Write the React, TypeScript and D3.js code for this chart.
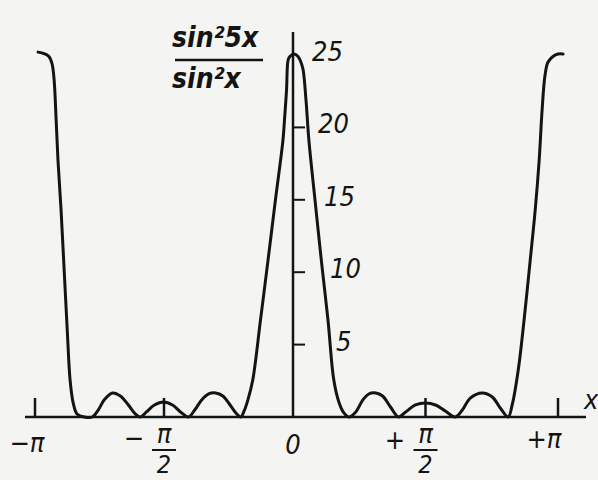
import React from "react";
import * as d3 from "d3";

// curve: x in multiples of pi, y = sin^2(5x)/sin^2(x)
const xPi = [
  -0.988, -0.965, -0.946, -0.934, -0.926, -0.918, -0.911, -0.899, -0.887, -0.875, -0.864, -0.852, -0.837, -0.809, -0.778,
  -0.755, -0.732, -0.7, -0.669, -0.638, -0.611, -0.591,
  -0.568, -0.537, -0.502, -0.467, -0.436, -0.405,
  -0.381, -0.354, -0.327, -0.3, -0.272, -0.241, -0.218, -0.202,
  -0.191, -0.175, -0.156, -0.126, -0.097, -0.068, -0.039, -0.033, -0.025, -0.019, -0.012, 0.004,
  0.019, 0.03, 0.038, 0.049, 0.06, 0.083, 0.107, 0.132, 0.154, 0.173, 0.192, 0.211,
  0.237, 0.263, 0.286, 0.312, 0.338, 0.368, 0.398,
  0.425, 0.462, 0.5, 0.538, 0.575, 0.613,
  0.639, 0.669, 0.714, 0.752, 0.782, 0.812,
  0.827, 0.85, 0.872, 0.895, 0.914, 0.929, 0.94, 0.951, 0.962, 0.981, 1.0, 1.019,
];
const yVals = [
  25.2, 25.1, 24.9, 24.4, 23.3, 20.5, 17.75, 14.3, 10.15, 6.0, 2.55, 0.97, 0.21, 0, 0,
  0.48, 1.17, 1.66, 1.45, 0.83, 0.21, 0,
  0.35, 0.83, 1.04, 0.83, 0.35, 0,
  0.48, 1.17, 1.59, 1.66, 1.45, 0.76, 0.21, 0,
  0.35, 1.17, 2.55, 6.7, 10.8, 15.0, 19.1, 20.5, 22.6, 24.65, 24.9, 25.07,
  24.9, 24.5, 24.0, 21.9, 19.1, 15.0, 10.8, 6.7, 2.55, 1.04, 0.28, 0,
  0.35, 1.17, 1.59, 1.66, 1.45, 0.69, 0,
  0.35, 0.83, 0.97, 0.83, 0.41, 0,
  0.48, 1.31, 1.66, 1.38, 0.62, 0,
  0.83, 3.25, 6.7, 10.8, 14.3, 17.75, 21.2, 23.6, 24.5, 24.9, 25.07, 25.07,
];
const yTicks = [5, 10, 15, 20];
const yTickLabels = ["25", "20", "15", "10", "5"];
const yLabelValues = [25, 20, 15, 10, 5];
const xTicks = [-1, -0.5, 0.5, 1];

const W = 598;
const H = 480;
const ink = "#141414";
const font = "'DejaVu Sans Condensed', 'DejaVu Sans', sans-serif";

export default function App() {
  const x = d3.scaleLinear().domain([-1, 0, 1]).range([35, 293, 558]);
  const y = d3.scaleLinear().domain([0, 25]).range([417, 55]);
  const pts = xPi.map((v, i) => [v, yVals[i]] as [number, number]);
  const line = d3
    .line<[number, number]>()
    .x((d) => x(d[0]))
    .y((d) => y(d[1]))
    .curve(d3.curveCatmullRom.alpha(0.5));

  // tick labels drift right following the curve in the original
  const labelX = [312, 318, 324, 330, 336];

  return (
    <svg
      width={W}
      height={H}
      style={{ position: "fixed", left: 0, top: 0, display: "block" }}
    >
      <rect width={W} height={H} fill="#f4f4f2" />
      {/* axes */}
      <line x1={25} x2={586} y1={y(0)} y2={y(0)} stroke={ink} strokeWidth={2.5} />
      <line x1={x(0)} x2={x(0)} y1={32} y2={y(0)} stroke={ink} strokeWidth={2.5} />
      {yTicks.map((t) => (
        <line key={t} x1={x(0)} x2={x(0) + 12} y1={y(t)} y2={y(t)} stroke={ink} strokeWidth={2} />
      ))}
      {xTicks.map((t) => (
        <line key={t} x1={x(t)} x2={x(t)} y1={y(0)} y2={y(0) - 19} stroke={ink} strokeWidth={2.5} />
      ))}
      <path d={line(pts) ?? ""} fill="none" stroke={ink} strokeWidth={3} strokeLinecap="round" />

      <g fontFamily={font} fontStyle="italic" fill={ink} fontSize={27}>
        {yTickLabels.map((s, i) => (
          <text key={s} x={labelX[i]} y={y(yLabelValues[i]) + 6}>
            {s}
          </text>
        ))}
        {/* y label */}
        <g fontWeight="bold" fontSize={28}>
          <text x={172} y={47}>sin²5x</text>
          <text x={172} y={88}>sin²x</text>
        </g>
        <line x1={175} x2={263} y1={60} y2={60} stroke={ink} strokeWidth={2.5} />
        <text x={584} y={409}>x</text>

        {/* x tick labels */}
        <text x={x(-1) - 8} y={452} textAnchor="middle">−π</text>
        <text x={134} y={447} textAnchor="middle">−</text>
        <text x={x(-0.5)} y={443} textAnchor="middle">π</text>
        <line x1={x(-0.5) - 12} x2={x(-0.5) + 12} y1={450} y2={450} stroke={ink} strokeWidth={2} />
        <text x={x(-0.5)} y={473} textAnchor="middle" fontSize={25}>2</text>
        <text x={x(0)} y={454} textAnchor="middle">0</text>
        <text x={395} y={449} textAnchor="middle">+</text>
        <text x={x(0.5)} y={443} textAnchor="middle">π</text>
        <line x1={x(0.5) - 12} x2={x(0.5) + 12} y1={450} y2={450} stroke={ink} strokeWidth={2} />
        <text x={x(0.5)} y={473} textAnchor="middle" fontSize={25}>2</text>
        <text x={x(1) - 14} y={448} textAnchor="middle">+π</text>
      </g>
    </svg>
  );
}
